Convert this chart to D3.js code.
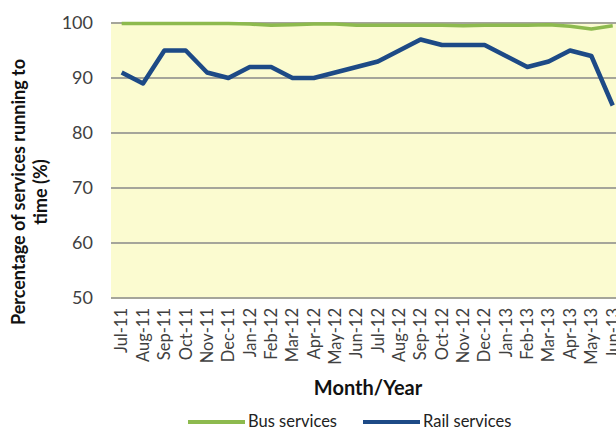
<!DOCTYPE html>
<html>
<head>
<meta charset="utf-8">
<script src="https://cdn.jsdelivr.net/npm/d3@7"></script>
<style>
  html, body { margin: 0; padding: 0; background: #fff; overflow: hidden; }
  svg { display: block; font-family: Lato, 'Open Sans', sans-serif; }
</style>
</head>
<body>
<div id="chart"></div>
<script>
// categories (the right end of the original chart is cut off after Jun-13)
const months = ['Jul-11', 'Aug-11', 'Sep-11', 'Oct-11', 'Nov-11', 'Dec-11', 'Jan-12', 'Feb-12',
  'Mar-12', 'Apr-12', 'May-12', 'Jun-12', 'Jul-12', 'Aug-12', 'Sep-12', 'Oct-12', 'Nov-12',
  'Dec-12', 'Jan-13', 'Feb-13', 'Mar-13', 'Apr-13', 'May-13', 'Jun-13']

const busServices = [99.9, 99.9, 99.9, 99.9, 99.9, 99.9, 99.8, 99.6, 99.7, 99.8, 99.8, 99.6,
  99.6, 99.6, 99.6, 99.6, 99.5, 99.6, 99.6, 99.6, 99.7, 99.4, 98.9, 99.5]
const railServices = [91, 89, 95, 95, 91, 90, 92, 92, 90, 90, 91, 92,
  93, 95, 97, 96, 96, 96, 94, 92, 93, 95, 94, 85]

const yTicks = [50, 60, 70, 80, 90, 100]

const width = 616
const height = 432
const plot = { left: 111, top: 23, bottom: 298, step: 21.35 }

const svg = d3.select('#chart').append('svg')
  .attr('width', width).attr('height', height)

const x = d3.scaleBand()
  .domain(months)
  .range([plot.left, plot.left + months.length * plot.step])

const y = d3.scaleLinear().domain([50, 100]).range([plot.bottom, plot.top])

const cx = d => x(d) + x.bandwidth() / 2

// plot background
svg.append('rect')
  .attr('x', x.range()[0]).attr('y', y(100))
  .attr('width', x.range()[1] - x.range()[0]).attr('height', y(50) - y(100))
  .attr('fill', '#fbfbd0')

// gridlines
svg.append('g').selectAll('line').data(yTicks).join('line')
  .attr('x1', x.range()[0]).attr('x2', x.range()[1])
  .attr('y1', d => y(d)).attr('y2', d => y(d))
  .attr('stroke', '#a5a59a').attr('stroke-width', 1.8)

// y axis labels
const yAxis = svg.append('g')
  .attr('transform', `translate(${plot.left - 18},0)`)
  .call(d3.axisLeft(y).tickValues(yTicks).tickSize(0).tickPadding(0))
yAxis.select('.domain').remove()
yAxis.selectAll('text')
  .style('font-family', 'Lato, sans-serif')
  .style('font-size', '18px').attr('fill', '#404040')

// x axis labels, rotated (the last one runs off the right edge, as in the source)
const xAxis = svg.append('g')
  .attr('transform', `translate(0,${plot.bottom})`)
  .call(d3.axisBottom(x).tickSize(0).tickPadding(0))
xAxis.select('.domain').remove()
xAxis.selectAll('text')
  .style('font-family', 'Lato, sans-serif')
  .style('font-size', '16.5px').attr('fill', '#404040')
  .attr('text-anchor', 'end')
  .attr('transform', 'rotate(-90)')
  .attr('x', -10).attr('y', 0).attr('dy', '0.35em')

// lines
const line = d3.line().x((d, i) => cx(months[i])).y(d => y(d))

svg.append('path').datum(busServices)
  .attr('d', line).attr('fill', 'none')
  .attr('stroke', '#8dba4e').attr('stroke-width', 3.5).attr('stroke-linejoin', 'round')

svg.append('path').datum(railServices)
  .attr('d', line).attr('fill', 'none')
  .attr('stroke', '#1d4a86').attr('stroke-width', 4.5).attr('stroke-linejoin', 'round')

// axis titles
svg.append('text')
  .attr('transform', 'translate(25,192) rotate(-90)')
  .attr('text-anchor', 'middle')
  .style('font-size', '18px').style('font-weight', 'bold').attr('fill', '#111')
  .selectAll('tspan').data(['Percentage of services running to', 'time (%)']).join('tspan')
  .attr('x', 0).attr('dy', (d, i) => i ? '1.22em' : 0).text(d => d)

svg.append('text')
  .attr('x', 368).attr('y', 395)
  .attr('text-anchor', 'middle')
  .style('font-size', '20px').style('font-weight', 'bold').attr('fill', '#111')
  .text('Month/Year')

// legend
const legendItems = [
  { label: 'Bus services', color: '#8dba4e', x: 188 },
  { label: 'Rail services', color: '#1d4a86', x: 363 }
]
const lg = svg.append('g').selectAll('g').data(legendItems).join('g')
  .attr('transform', d => `translate(${d.x},422)`)
lg.append('line').attr('x1', 0).attr('x2', 57)
  .attr('stroke', d => d.color).attr('stroke-width', 4)
lg.append('text').attr('x', 60).attr('dy', '0.33em')
  .style('font-size', '16.5px').attr('fill', '#222')
  .text(d => d.label)
</script>
</body>
</html>
